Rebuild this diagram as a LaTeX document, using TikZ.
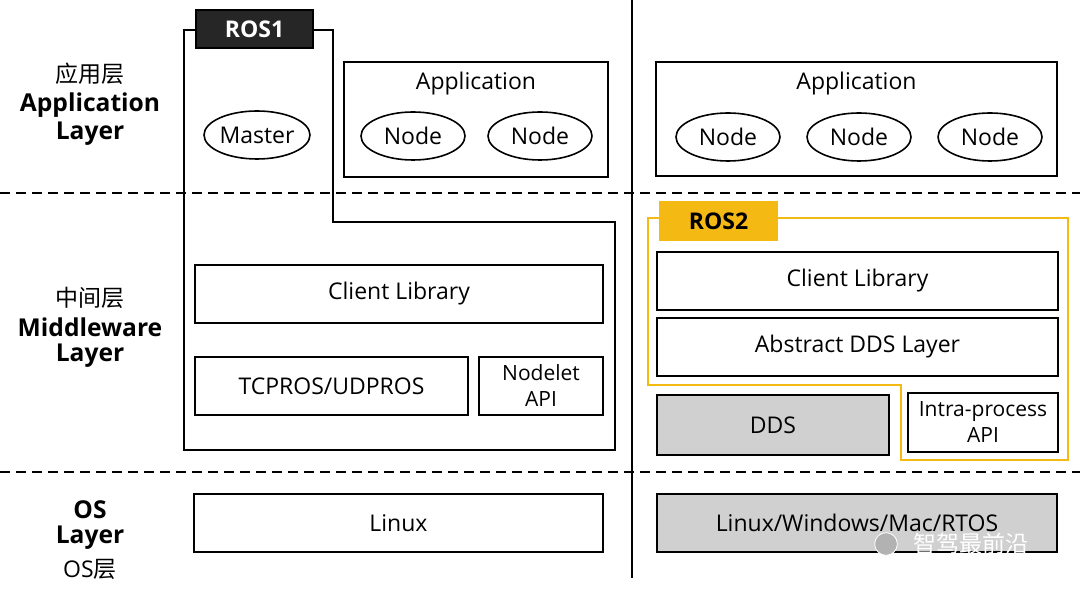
\documentclass[tikz,border=0pt]{standalone}
\usepackage{fontspec}
\setmainfont{Open Sans}
\newfontfamily\cjk{Noto Sans CJK SC}
\usetikzlibrary{shapes.geometric}
\definecolor{rosyellow}{RGB}{245,185,20}
\definecolor{boxgray}{RGB}{208,208,208}
\begin{document}
\begin{tikzpicture}[
  x=0.5pt, y=-0.5pt,
  txt/.style={font=\fontsize{11.5}{12}\selectfont},
  lbl/.style={font=\fontsize{12.3}{13}\selectfont\bfseries},
  box/.style={draw, line width=0.8pt, inner sep=0pt, font=\fontsize{11.5}{12.5}\selectfont, align=center},
  node/.style={draw, ellipse, line width=0.8pt, minimum width=52pt, minimum height=24pt, inner sep=0pt, font=\fontsize{11.5}{12}\selectfont},
  sep/.style={dashed, line width=0.9pt, dash pattern=on 5pt off 3pt}
  ]
  % 画布
  \useasboundingbox (0,0) rectangle (1080,592);
  % 分隔线
  \draw[sep] (0,193) -- (1080,193);
  \draw[sep] (0,472) -- (1080,472);
  \draw[line width=1.3pt] (632,0) -- (632,578);

  % 左侧层名
  \node[txt] (al1) at (90,74) {\cjk 应用层};
  \node[lbl] (al2) at (90,105) {Application};
  \node[lbl] (al3) at (90,134) {Layer};
  \node[txt] (ml1) at (90,298) {\cjk 中间层};
  \node[lbl] (ml2) at (90,327) {Middleware};
  \node[lbl] (ml3) at (90,356) {Layer};
  \node[lbl] (ol1) at (90,510) {OS};
  \node[lbl] (ol2) at (90,538) {Layer};
  \node[txt] (ol3) at (90,569) {OS\cjk 层};

  % ROS1 外框
  \draw[line width=1.2pt] (184,30) -- (333,30) -- (333,222) -- (615,222)
    -- (615,450) -- (184,450) -- cycle;
  \node[box, fill=black!85, text=white, font=\fontsize{11.5}{12}\selectfont\bfseries,
    minimum width=58.5pt, minimum height=19pt] (ros1) at (254.5,29) {ROS1};

  % ROS1 应用层
  \node[node] (master) at (257,135) {Master};
  \node[box, minimum width=132pt, minimum height=57.5pt] (app1) at (476,119.5) {};
  \node[txt] (app1t) at (476,84) {Application};
  \node[node] (n11) at (413,136) {Node};
  \node[node] (n12) at (540,136) {Node};

  % ROS1 中间层
  \node[box, minimum width=204pt, minimum height=29pt] (cl1) at (399,294) {Client Library};
  \node[box, minimum width=136.5pt, minimum height=29pt] (tcp) at (331.5,386) {TCPROS/UDPROS};
  \node[box, minimum width=62pt, minimum height=29pt, font=\fontsize{10.5}{13}\selectfont] (nlet) at (541,386) {Nodelet\\API};

  % ROS1 OS层
  \node[box, minimum width=204.5pt, minimum height=29pt] (linux) at (398.5,523) {Linux};

  % ROS2 应用层
  \node[box, minimum width=200.5pt, minimum height=57pt] (app2) at (856.5,119) {};
  \node[txt] (app2t) at (856.5,84) {Application};
  \node[node] (n21) at (728,137) {Node};
  \node[node] (n22) at (859,137) {Node};
  \node[node] (n23) at (990,137) {Node};

  % ROS2 外框
  \draw[rosyellow, line width=1.2pt] (648,218) -- (1068,218) -- (1068,460) -- (901,460)
    -- (901,385) -- (648,385) -- cycle;
  \node[box, draw=rosyellow, fill=rosyellow, font=\fontsize{11.5}{12}\selectfont\bfseries,
    minimum width=58.5pt, minimum height=19pt] (ros2) at (718.5,221) {ROS2};

  % ROS2 中间层
  \node[box, minimum width=200.5pt, minimum height=29pt] (cl2) at (857.5,281) {Client Library};
  \node[box, minimum width=200.5pt, minimum height=29pt] (adds) at (857.5,347) {Abstract DDS Layer};
  \node[box, fill=boxgray, minimum width=116pt, minimum height=30pt] (dds) at (773,425) {DDS};
  \node[box, minimum width=75pt, minimum height=29.5pt, font=\fontsize{10.5}{13}\selectfont] (intra) at (983,422.5) {Intra-process\\API};

  % ROS2 OS层
  \node[box, fill=boxgray, minimum width=200pt, minimum height=29pt] (los) at (857,523) {Linux/Windows/Mac/RTOS};

  % 水印
  \node[text=white, font=\fontsize{11.5}{13}\selectfont\cjk, anchor=west] (wm) at (906,544) {智驾最前沿};
  \node[draw=white, fill=gray!60, circle, inner sep=4pt] (wmi) at (886,544) {};
\end{tikzpicture}
\end{document}
